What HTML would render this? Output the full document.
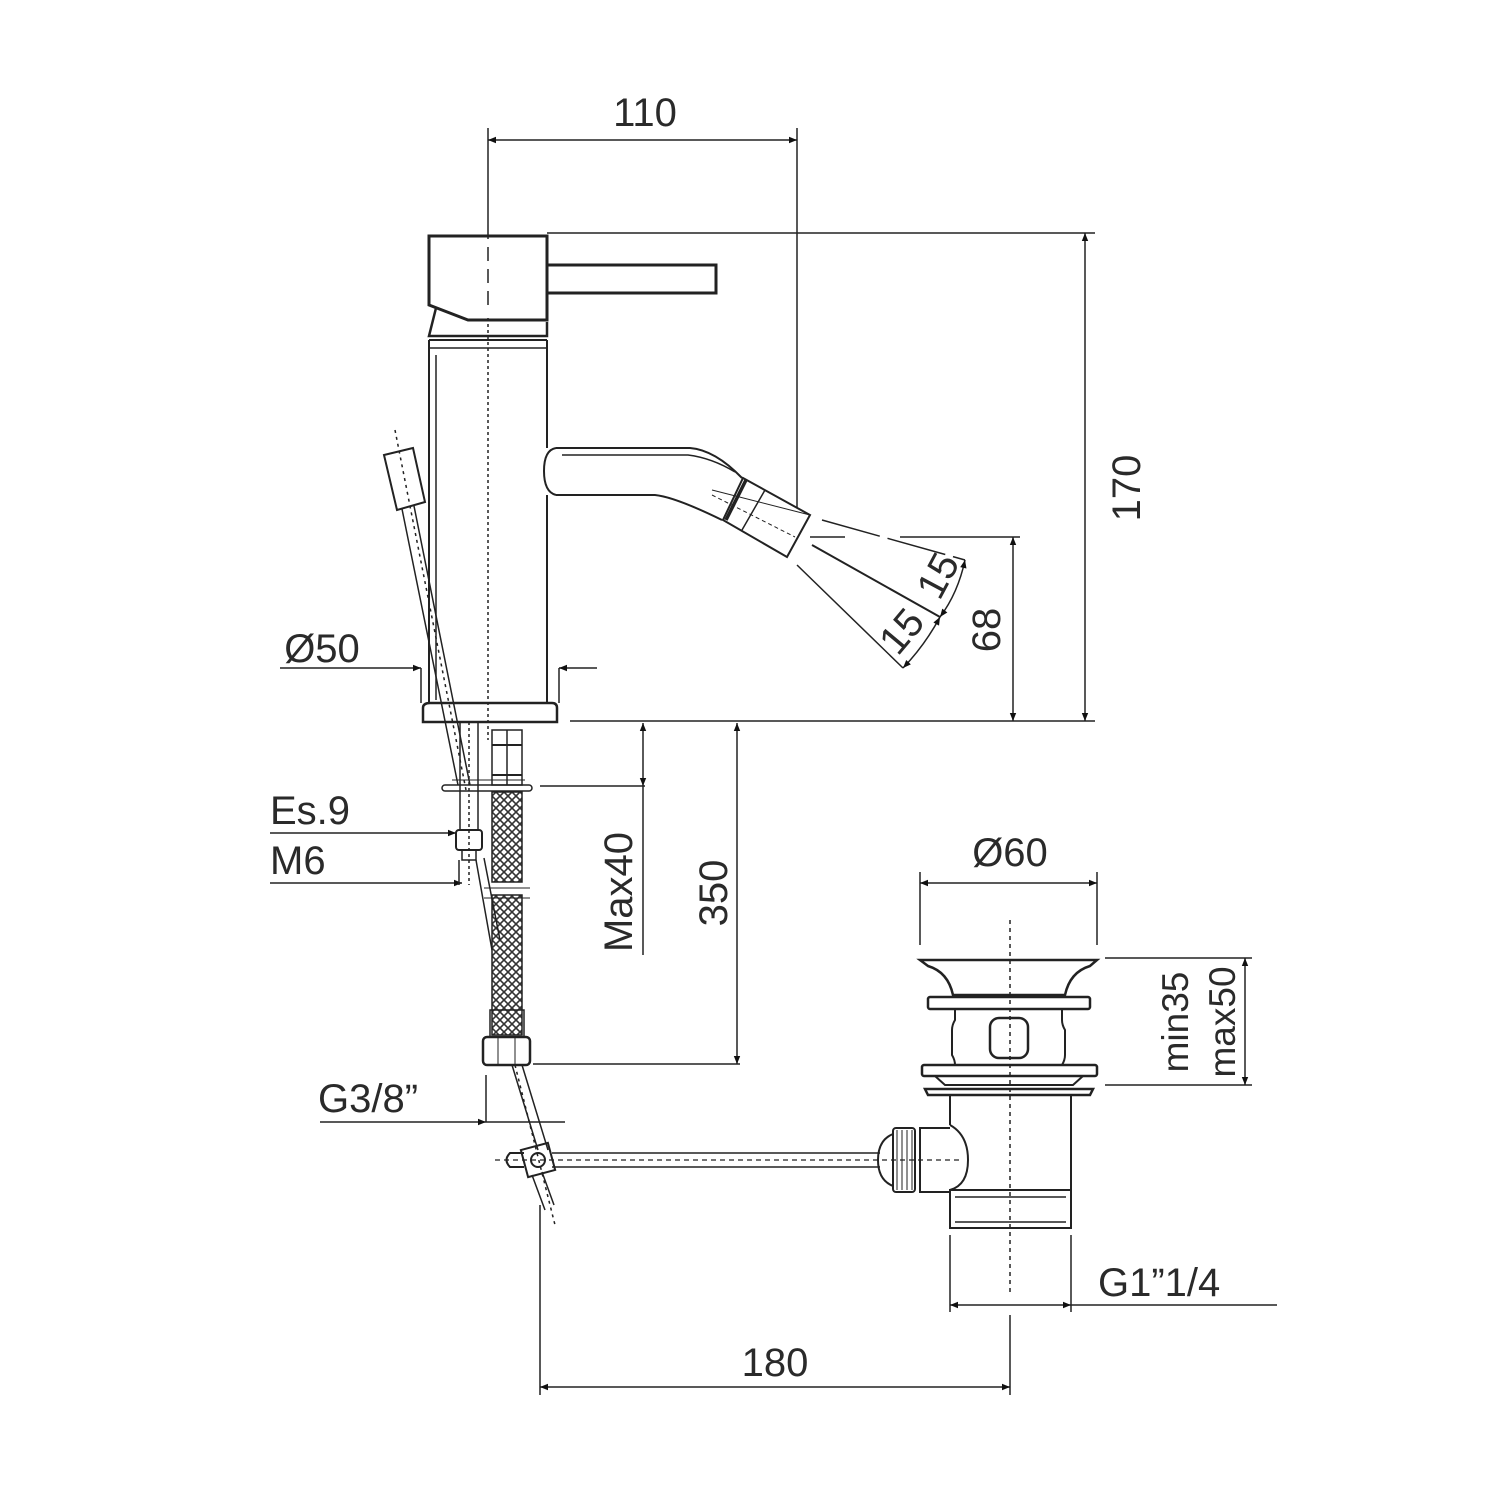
<!DOCTYPE html>
<html><head><meta charset="utf-8"><style>
html,body{margin:0;padding:0;background:#fff;}
svg{display:block}
text{font-family:"Liberation Sans",sans-serif;fill:#2a2a2a}
</style></head><body>
<svg width="1500" height="1500" viewBox="0 0 1500 1500" xmlns="http://www.w3.org/2000/svg">
<defs>
<marker id="a" viewBox="0 0 10 10" refX="10" refY="5" markerWidth="16" markerHeight="8" markerUnits="userSpaceOnUse" orient="auto-start-reverse"><path d="M0,1 L10,5 L0,9z" fill="#111"/></marker>
<pattern id="braid" width="8" height="8" patternUnits="userSpaceOnUse"><path d="M0,0 L8,8 M8,0 L0,8" stroke="#333" stroke-width="1.6"/></pattern>
</defs>
<g fill="none" stroke="#222" stroke-width="2">
<line x1="488" y1="128" x2="488" y2="225" stroke-width="1.5"/>
<line x1="797" y1="128" x2="797" y2="508" stroke-width="1.5"/>
<line x1="488" y1="140" x2="797" y2="140" stroke-width="1.5" marker-start="url(#a)" marker-end="url(#a)"/>
<line x1="547" y1="233" x2="1095" y2="233" stroke-width="1.5"/>
<line x1="570" y1="721" x2="1095" y2="721" stroke-width="1.5"/>
<line x1="1085" y1="233" x2="1085" y2="721" stroke-width="1.5" marker-start="url(#a)" marker-end="url(#a)"/>
<line x1="810" y1="537" x2="845" y2="537" stroke-width="1.5"/>
<line x1="900" y1="537" x2="1020" y2="537" stroke-width="1.5"/>
<line x1="1013" y1="537" x2="1013" y2="721" stroke-width="1.5" marker-start="url(#a)" marker-end="url(#a)"/>
<path d="M429,236 L547,236 L547,320 L468,320 L429,305 Z" stroke-width="3"/>
<path d="M436,308 L429,336 L547,336 L547,322" stroke-width="2.5"/>
<rect x="547" y="265" width="169" height="28" stroke-width="3"/>
<line x1="488" y1="225" x2="488" y2="310" stroke-dasharray="14,8" stroke-width="1.5"/>
<line x1="429" y1="340" x2="547" y2="340"/>
<line x1="429" y1="348" x2="547" y2="348" stroke-width="1.5"/>
<line x1="429" y1="340" x2="429" y2="703"/>
<line x1="436" y1="355" x2="436" y2="700" stroke-width="1.5"/>
<line x1="547" y1="340" x2="547" y2="448"/>
<line x1="547" y1="495" x2="547" y2="703"/>
<path d="M423,722 L423,708 Q423,703 430,703 L552,703 Q557,703 557,708 L557,722 Z" stroke-width="2.5"/>
<line x1="488" y1="318" x2="488" y2="740" stroke-dasharray="3,3" stroke-width="1.5"/>
<path d="M556,448 L690,448 Q715,450 742,478" stroke-width="2"/>
<path d="M556,495 L655,495 Q675,497 722,520" stroke-width="2"/>
<path d="M556,448 Q544,450 544,471 Q544,492 556,495" stroke-width="2"/>
<path d="M562,455 L688,455 Q712,458 735,472" stroke-width="1.5"/>
<path d="M743,478 L810,515 L787,557 L723,520 Z" stroke-width="2"/>
<line x1="746" y1="480" x2="726" y2="520" stroke-width="3.5"/>
<line x1="765" y1="490" x2="742" y2="530" stroke-width="1.5"/>
<line x1="712" y1="490" x2="810" y2="515" stroke-width="1"/>
<line x1="712" y1="495" x2="795" y2="537" stroke-width="1" stroke-dasharray="4,3"/>
<line x1="822" y1="520" x2="965" y2="560" stroke-width="1.5" stroke-dasharray="60,8"/>
<line x1="812" y1="545" x2="940" y2="617" stroke-width="2"/>
<line x1="797" y1="565" x2="903" y2="668" stroke-width="1.5"/>
<path d="M965,560 Q958,593 940,617" stroke-width="1.5" marker-start="url(#a)" marker-end="url(#a)"/>
<path d="M940,617 Q925,645 903,668" stroke-width="1.5" marker-start="url(#a)" marker-end="url(#a)"/>
<line x1="280" y1="668" x2="421" y2="668" stroke-width="1.5" marker-end="url(#a)"/>
<line x1="421" y1="668" x2="421" y2="703" stroke-width="1.5"/>
<line x1="597" y1="668" x2="559" y2="668" stroke-width="1.5" marker-end="url(#a)"/>
<line x1="559" y1="668" x2="559" y2="703" stroke-width="1.5"/>
<path d="M384,455 L413,448 L425,502 L397,510 Z" stroke-width="2"/>
<path d="M402,509 L458,785 M414,506 L470,785" stroke-width="1.5"/>
<line x1="395" y1="430" x2="466" y2="790" stroke-dasharray="3,4" stroke-width="1.5"/>
<rect x="460" y="722" width="18" height="108" stroke-width="1.5"/>
<line x1="469" y1="722" x2="469" y2="885" stroke-dasharray="3,3" stroke-width="1.5"/>
<rect x="456" y="830" width="26" height="20" rx="3" stroke-width="2"/>
<rect x="462" y="850" width="14" height="10" stroke-width="1.5"/>
<rect x="492" y="730" width="30" height="55" stroke-width="1.5"/>
<line x1="507" y1="730" x2="507" y2="785" stroke-width="1.5"/>
<line x1="492" y1="745" x2="522" y2="745"/>
<line x1="492" y1="775" x2="522" y2="775"/>
<rect x="442" y="785" width="90" height="6" rx="3" stroke-width="1.5"/>
<line x1="452" y1="780" x2="525" y2="780" stroke-width="1"/>
<rect x="492" y="792" width="30" height="90" fill="url(#braid)" stroke-width="1.5"/>
<rect x="492" y="895" width="30" height="140" fill="url(#braid)" stroke-width="1.5"/>
<path d="M476,860 L492,950 M484,858 L500,940" stroke-width="1.5"/>
<line x1="484" y1="888" x2="530" y2="888" stroke-width="1"/>
<line x1="484" y1="898" x2="530" y2="898" stroke-width="1"/>
<rect x="490" y="1010" width="34" height="27" stroke-width="1.5"/>
<rect x="483" y="1037" width="47" height="28" rx="4" stroke-width="2.5"/>
<line x1="498" y1="1037" x2="498" y2="1065" stroke-width="1"/>
<line x1="515" y1="1037" x2="515" y2="1065" stroke-width="1"/>
<path d="M512,1065 L538,1150 M522,1065 L548,1150" stroke-width="1.5"/>
<path d="M532,1175 L545,1210 M542,1172 L554,1205" stroke-width="1.5"/>
<line x1="515" y1="1065" x2="555" y2="1225" stroke-dasharray="3,4" stroke-width="1.5"/>
<rect x="524" y="1146" width="28" height="28" transform="rotate(-15 538 1160)" stroke-width="2"/>
<circle cx="538" cy="1160" r="7"/>
<path d="M524,1153 L510,1153 Q503,1160 510,1167 L524,1167"/>
<line x1="552" y1="1153" x2="880" y2="1153" stroke-width="1.5"/>
<line x1="552" y1="1167" x2="880" y2="1167" stroke-width="1.5"/>
<line x1="495" y1="1160" x2="960" y2="1160" stroke-dasharray="5,4" stroke-width="1.2"/>
<line x1="270" y1="833" x2="456" y2="833" stroke-width="1.5" marker-end="url(#a)"/>
<line x1="270" y1="883" x2="462" y2="883" stroke-width="1.5" marker-end="url(#a)"/>
<line x1="459" y1="860" x2="459" y2="885" stroke-width="1.5"/>
<line x1="320" y1="1122" x2="486" y2="1122" stroke-width="1.5" marker-end="url(#a)"/>
<line x1="486" y1="1075" x2="486" y2="1122" stroke-width="1.5"/>
<line x1="486" y1="1122" x2="565" y2="1122" stroke-width="1.5"/>
<line x1="540" y1="786" x2="645" y2="786" stroke-width="1.5"/>
<line x1="643" y1="723" x2="643" y2="786" stroke-width="1.5" marker-start="url(#a)" marker-end="url(#a)"/>
<line x1="643" y1="786" x2="643" y2="955" stroke-width="1.5"/>
<line x1="737" y1="723" x2="737" y2="1064" stroke-width="1.5" marker-start="url(#a)" marker-end="url(#a)"/>
<line x1="533" y1="1064" x2="740" y2="1064" stroke-width="1.5"/>
<line x1="920" y1="872" x2="920" y2="945" stroke-width="1.5"/>
<line x1="1097" y1="872" x2="1097" y2="945" stroke-width="1.5"/>
<line x1="920" y1="883" x2="1097" y2="883" stroke-width="1.5" marker-start="url(#a)" marker-end="url(#a)"/>
<path d="M920,960 L1097,960 L1090,966 Q1070,972 1065,995 L953,995 Q948,972 928,966 Z" stroke-width="2.5"/>
<rect x="928" y="997" width="162" height="12" rx="2" stroke-width="2.5"/>
<path d="M955,1009 L955,1020 Q952,1025 952,1030 L952,1055 Q955,1060 955,1065 L1062,1065 Q1065,1060 1065,1055 L1065,1030 Q1062,1025 1062,1020 L1062,1009" stroke-width="2"/>
<rect x="990" y="1018" width="38" height="40" rx="9" stroke-width="2.5"/>
<rect x="922" y="1065" width="175" height="11" rx="2" stroke-width="2.5"/>
<path d="M935,1076 L945,1085 L1073,1085 L1083,1076" stroke-width="2"/>
<path d="M925,1089 L1093,1089 L1090,1095 L928,1095 Z" stroke-width="2.5"/>
<line x1="950" y1="1095" x2="950" y2="1125" stroke-width="2"/>
<line x1="1071" y1="1095" x2="1071" y2="1190" stroke-width="2"/>
<path d="M950,1125 Q968,1135 968,1160 Q968,1185 950,1190" stroke-width="2"/>
<path d="M950,1190 L1071,1190 L1071,1228 L950,1228 Z" stroke-width="2"/>
<line x1="955" y1="1197" x2="1066" y2="1197" stroke-width="1.5"/>
<line x1="955" y1="1222" x2="1066" y2="1222" stroke-width="1.5"/>
<path d="M950,1128 L920,1128 L920,1192 L950,1192" stroke-width="2"/>
<rect x="893" y="1128" width="22" height="64" rx="3" stroke-width="2"/>
<path d="M893,1134 Q878,1140 878,1160 Q878,1180 893,1186" stroke-width="2"/>
<g stroke-width="1"><line x1="897" y1="1130" x2="897" y2="1190"/><line x1="902" y1="1130" x2="902" y2="1190"/><line x1="907" y1="1130" x2="907" y2="1190"/><line x1="912" y1="1130" x2="912" y2="1190"/></g>
<line x1="1010" y1="920" x2="1010" y2="1295" stroke-dasharray="4,4" stroke-width="1.5"/>
<line x1="1105" y1="958" x2="1252" y2="958" stroke-width="1.5"/>
<line x1="1105" y1="1085" x2="1252" y2="1085" stroke-width="1.5"/>
<line x1="1245" y1="958" x2="1245" y2="1085" stroke-width="1.5" marker-start="url(#a)" marker-end="url(#a)"/>
<line x1="950" y1="1235" x2="950" y2="1312" stroke-width="1.5"/>
<line x1="1071" y1="1235" x2="1071" y2="1312" stroke-width="1.5"/>
<line x1="950" y1="1305" x2="1071" y2="1305" stroke-width="1.5" marker-start="url(#a)" marker-end="url(#a)"/>
<line x1="1071" y1="1305" x2="1277" y2="1305" stroke-width="1.5"/>
<line x1="540" y1="1205" x2="540" y2="1395" stroke-width="1.5"/>
<line x1="1010" y1="1315" x2="1010" y2="1395" stroke-width="1.5"/>
<line x1="540" y1="1387" x2="1010" y2="1387" stroke-width="1.5" marker-start="url(#a)" marker-end="url(#a)"/>
</g>
<g font-size="40">
<text x="645" y="126" text-anchor="middle">110</text>
<text transform="translate(1140,488) rotate(-90)" text-anchor="middle">170</text>
<text transform="translate(1000,630) rotate(-90)" text-anchor="middle">68</text>
<text transform="translate(950,582) rotate(-62)" text-anchor="middle" font-size="40">15</text>
<text transform="translate(912,640) rotate(-50)" text-anchor="middle" font-size="40">15</text>
<text x="322" y="662" text-anchor="middle">Ø50</text>
<text x="270" y="824">Es.9</text>
<text x="270" y="874">M6</text>
<text x="318" y="1112">G3/8”</text>
<text transform="translate(632,892) rotate(-90)" text-anchor="middle">Max40</text>
<text transform="translate(727,893) rotate(-90)" text-anchor="middle">350</text>
<text x="1010" y="866" text-anchor="middle">Ø60</text>
<text transform="translate(1188,1022) rotate(-90)" text-anchor="middle" font-size="37">min35</text>
<text transform="translate(1235,1022) rotate(-90)" text-anchor="middle" font-size="37">max50</text>
<text x="1098" y="1296">G1”1/4</text>
<text x="775" y="1376" text-anchor="middle">180</text>
</g>
</svg>
</body></html>
